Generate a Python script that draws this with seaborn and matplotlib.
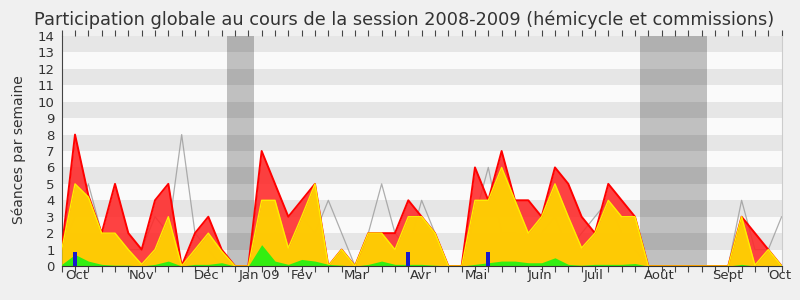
import matplotlib
matplotlib.use("Agg")
import matplotlib.pyplot as plt
import seaborn as sns

# ---- data (weekly, session 2008-2009) ----
weeks = list(range(55))
total_seances = [1, 8, 4.3, 2, 5, 2, 1, 4, 5, 0, 2, 3, 1, 0, 0, 7, 5, 3, 4, 5,
                 0, 1, 0, 2, 2, 2, 4, 3, 2, 0, 0, 6, 4, 7, 4, 4, 3, 6, 5, 3,
                 2, 5, 4, 3, 0, 0, 0, 0, 0, 0, 0, 3, 2, 1, 0]
hemicycle = [1, 5, 4.2, 2, 2, 1, 0.1, 1, 3, 0, 1, 2, 0.9, 0, 0, 4, 4, 1.1, 3, 5,
             0, 1, 0, 2, 2, 1, 3, 3, 2, 0, 0, 4, 4, 6, 4, 2, 3, 5, 3, 1.1,
             2, 4, 3, 3, 0, 0, 0, 0, 0, 0, 0, 3, 0.05, 1, 0]
questions = [0.1, 0.7, 0.3, 0.1, 0.05, 0.05, 0, 0.1, 0.3, 0, 0.1, 0.1, 0.2, 0, 0,
             1.3, 0.3, 0.1, 0.4, 0.3, 0.1, 0.05, 0, 0.1, 0.3, 0.1, 0.1, 0.1, 0.05,
             0, 0, 0.1, 0.2, 0.3, 0.3, 0.2, 0.2, 0.5, 0.1, 0.05, 0.1, 0.1, 0.1,
             0.15, 0, 0, 0, 0, 0, 0, 0, 0.1, 0, 0, 0]
mediane = [1, 3, 5, 2, 2, 1, 1, 3, 2, 8, 2, 1, 0, 0, 0, 1, 2, 1, 3, 2,
           4, 2, 0, 2, 5, 2, 1, 4, 2, 0, 0, 3, 6, 2, 2, 1, 2, 3, 1, 2,
           3, 4, 2, 1, 0, 0, 0, 0, 0, 0, 0, 4, 1, 1, 3]
blue_weeks = [1, 26, 32]
blue_values = [0.85, 0.85, 0.85]
vacations = [(12.4, 14.45), (43.4, 48.4)]
month_labels = ["Oct", "Nov", "Déc", "Jan 09", "Fév", "Mar", "Avr", "Mai",
                "Juin", "Juil", "Août", "Sept", "Oct"]
month_pos = [1.1, 5.97, 10.9, 14.8, 18.03, 22.1, 26.95, 31.1, 35.9, 39.9, 44.8, 49.9, 53.9]
yticks = list(range(15))
title = "Participation globale au cours de la session 2008-2009 (hémicycle et commissions)"
ylabel = "Séances par semaine"

sns.set_style("white")
plt.rcParams['font.family'] = ['DejaVu Sans']

fig = plt.figure(figsize=(8, 3), dpi=100)
fig.patch.set_facecolor('#F0F0F0')
ax = fig.add_axes([0.0771, 0.1133, 0.8999, 0.7667])
ax.set_facecolor('#FAFAFA')

for k in range(1, 14, 2):
    ax.axhspan(k, k + 1, color='#E6E6E6', lw=0, zorder=0)
for a, b in vacations:
    ax.axvspan(a, b, color='black', alpha=0.23, lw=0, zorder=0.5)

# reference line lies under the semi-transparent areas
sns.lineplot(x=weeks, y=mediane, color='#9A9A9A', alpha=0.8, lw=0.9, ax=ax, zorder=1)

ax.fill_between(weeks, total_seances, color='#FF2828', alpha=0.88, lw=0, zorder=2)
sns.lineplot(x=weeks, y=total_seances, color='#FF0000', lw=1.4, ax=ax, zorder=3)
ax.fill_between(weeks, hemicycle, color='#FFD500', alpha=0.93, lw=0, zorder=4)
sns.lineplot(x=weeks, y=hemicycle, color='#FFEE00', lw=1.0, ax=ax, zorder=5)
ax.fill_between(weeks, questions, color='#33EE11', lw=0, zorder=6)
ax.bar(blue_weeks, blue_values, width=0.3, color='#1A1ACC', lw=0, zorder=7)

ax.set_xlim(0, 54)
ax.set_ylim(0, 14)
ax.set_yticks(yticks)
ax.set_yticklabels([str(v) for v in yticks], fontsize=9.5, color='#333333')
ax.set_xticks(weeks)
ax.set_xticklabels([])
ax.set_xticks(month_pos, minor=True)
ax.set_xticklabels(month_labels, minor=True, fontsize=9.5, color='#333333')
ax.tick_params(axis='x', which='major', direction='out', length=4, width=0.8,
               color='#444444', top=True, bottom=True)
ax.tick_params(axis='x', which='minor', length=0, pad=2)
ax.tick_params(axis='y', direction='out', length=4, width=0.8, color='#444444', pad=1)
ax.set_xlabel('')
ax.set_ylabel('')

ax.spines['top'].set_visible(False)
ax.spines['right'].set_color('#CCCCCC')
ax.spines['left'].set_color('#444444')
ax.spines['bottom'].set_color('#333333')
ax.spines['bottom'].set_zorder(10)

fig.text(0.505, 0.933, title, ha='center', va='center', fontsize=12.8, color='#333333')
fig.text(0.024, 0.5, ylabel, ha='center', va='center', rotation=90, fontsize=10, color='#333333')

fig.savefig("out.png", dpi=100, facecolor=fig.get_facecolor())
